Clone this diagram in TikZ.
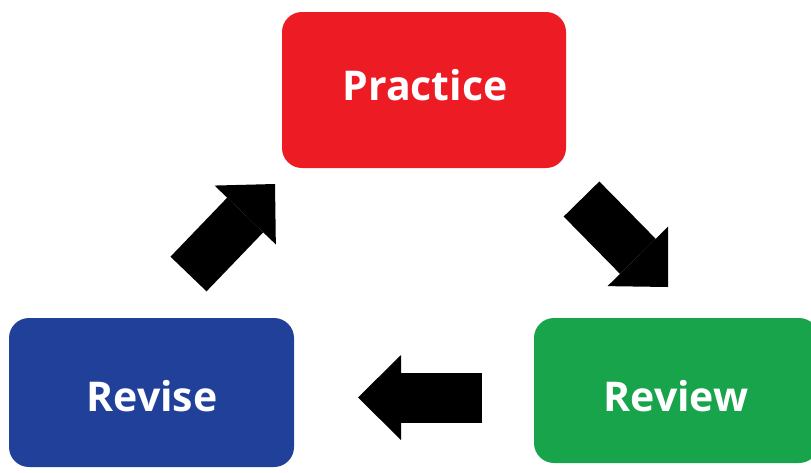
\documentclass[tikz,border=0pt]{standalone}
\usepackage{fontspec}
\setmainfont[Ligatures=NoCommon]{Open Sans}
\usetikzlibrary{arrows.meta}
\definecolor{pred}{RGB}{237,28,36}
\definecolor{pblue}{RGB}{33,64,154}
\definecolor{pgreen}{RGB}{24,164,74}
\begin{document}
\begin{tikzpicture}[x=1pt,y=-1pt,
  box/.style={rounded corners=20pt, inner sep=0pt, draw=none},
  lbl/.style={text=white, font=\fontsize{41}{48}\selectfont\bfseries, inner sep=0pt},
  bigarrow/.style={line width=50pt, -{Triangle[width=85pt,length=43pt,line width=0pt]}}]
\useasboundingbox (0,0) rectangle (811,472);
\node[box, fill=pred, minimum width=284pt, minimum height=156pt] (practice) at (424,90) {};
\node[box, fill=pblue, minimum width=285pt, minimum height=149pt] (revise) at (151.5,392.5) {};
\node[box, fill=pgreen, minimum width=285pt, minimum height=145pt] (review) at (676.5,390.5) {};
\node[lbl] (practicetext) at (425,85) {Practice};
\node[lbl] (revisetext) at (152,396) {Revise};
\node[lbl] (reviewtext) at (676,396) {Review};
\coordinate (a1s) at (188.5,274);
\coordinate (a1e) at (275,184);
\coordinate (a2s) at (581.5,199);
\coordinate (a2e) at (668,287);
\coordinate (a3s) at (482,397.5);
\coordinate (a3e) at (358,397.5);
\draw[bigarrow] (a1s) -- (a1e);
\draw[bigarrow] (a2s) -- (a2e);
\draw[bigarrow] (a3s) -- (a3e);
\end{tikzpicture}
\end{document}
